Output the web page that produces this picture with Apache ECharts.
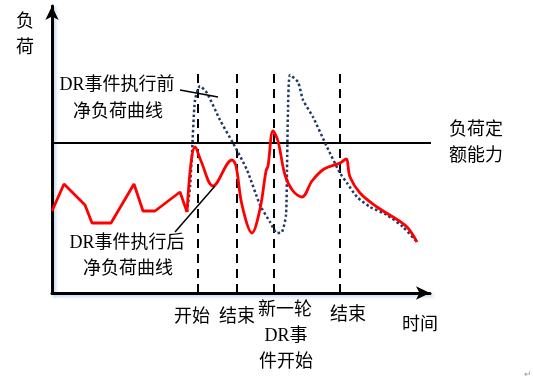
<!DOCTYPE html>
<html><head><meta charset="utf-8">
<script src="https://cdn.jsdelivr.net/npm/echarts@6/dist/echarts.min.js"></script>
<style>html,body{margin:0;padding:0;background:#fff}#c{width:533px;height:384px}</style>
</head><body><div id="c"></div>
<script>
// time axis (arbitrary units) and load values
const redStraight = [[0,82],[12,109],[33,88],[40,70],[59,70],[82,109],[91,82],[103,82],[128,101],[135,81]];
const redSmooth = [[135,81],[139,130],[143,146],[149,132],[161,107],[180,133],[184,127],[190,88],[200,60],[208,84],[214,122],[216,127],[221,162],[226,152],[233,118],[241,102],[250,96],[260,112],[272,124],[288,130],[294,134],[298,116],[308,100],[325,86],[341,76],[355,66],[365,51]];
const blueBefore = [[135,81],[138,106],[140,140],[143,193],[148,207],[155,200],[168,173],[181,150],[195,123],[208,88],[218,71],[225,60],[230,61],[234,78],[235,123],[236,183],[238,218],[246,211],[251,193],[261,176],[275,146],[288,120],[295,110],[305,96],[318,86],[335,78],[351,66],[365,51]];
const ratedLoad = 150;
const ratedSpan = [0, 388];
const eventTimes = [146, 185, 222, 288];
const eventTop = 220;
const leaderBefore = [[128,203],[166,196]];
const leaderAfter = [[123,61],[163,107]];

const FONT = '"Liberation Serif","Noto Sans CJK SC",serif';
const chart = echarts.init(document.getElementById('c'));
const series = [];
series.push({type:'line', data:redStraight, symbol:'none', smooth:false, lineStyle:{color:'#FF0000', width:2.8}, z:4});
series.push({type:'line', data:redSmooth, symbol:'none', smooth:0.35, lineStyle:{color:'#FF0000', width:2.8}, z:4});
series.push({type:'line', data:blueBefore, symbol:'none', smooth:0.2, lineStyle:{color:'#1F3864', width:2.5, type:[2.5,2.5]}, z:3});
series.push({type:'line', data:ratedSpan.map(t=>[t,ratedLoad]), symbol:'none', clip:false, lineStyle:{color:'#000', width:2}, z:2});
eventTimes.forEach(t=>{
  series.push({type:'line', data:[[t,0],[t,eventTop]], symbol:'none', lineStyle:{color:'#000', width:2, type:[9,6]}, z:2});
});
series.push({type:'line', data:leaderBefore, symbol:'none', clip:false, lineStyle:{color:'#000', width:1.5}, z:5});
series.push({type:'line', data:leaderAfter, symbol:'none', clip:false, lineStyle:{color:'#000', width:1.5}, z:5});

function txt(x,y,text,size,align){
  return {type:'text', x:x, y:y, z:10, style:{text:text, fontSize:size||18, fontFamily:FONT, fill:'#000', align:align||'center', verticalAlign:'middle', lineHeight:26}};
}
const axisLine = {show:true, symbol:['none','arrow'], symbolSize:[10,14], lineStyle:{color:'#000', width:3, shadowColor:'rgba(150,190,230,0.6)', shadowBlur:3, shadowOffsetY:2, shadowOffsetX:2}};
chart.setOption({
  animation:false,
  grid:{left:52, right:103, top:6, bottom:91},
  xAxis:{type:'value', min:0, max:378, axisLine:axisLine, axisTick:{show:false}, axisLabel:{show:false}, splitLine:{show:false}},
  yAxis:{type:'value', min:0, max:287, axisLine:axisLine, axisTick:{show:false}, axisLabel:{show:false}, splitLine:{show:false}},
  series:series,
  graphic:[
    txt(25,22,'负',18), txt(25,48,'荷',18),
    txt(117,85,'DR事件执行前',18), txt(118,112,'净负荷曲线',18),
    txt(127,243,'DR事件执行后',18), txt(128,269,'净负荷曲线',18),
    txt(476,130,'负荷定',18), txt(476,156,'额能力',18),
    txt(192,317,'开始',18), txt(237,317,'结束',18),
    txt(285,310,'新一轮',18), txt(286,336,'DR事',18), txt(286,362,'件开始',18),
    txt(348,315,'结束',18), txt(420,325,'时间',18),
    {type:'text', x:528, y:375, style:{text:'↵', fontSize:9, fill:'#999', align:'center', verticalAlign:'middle'}}
  ]
});
</script></body></html>
